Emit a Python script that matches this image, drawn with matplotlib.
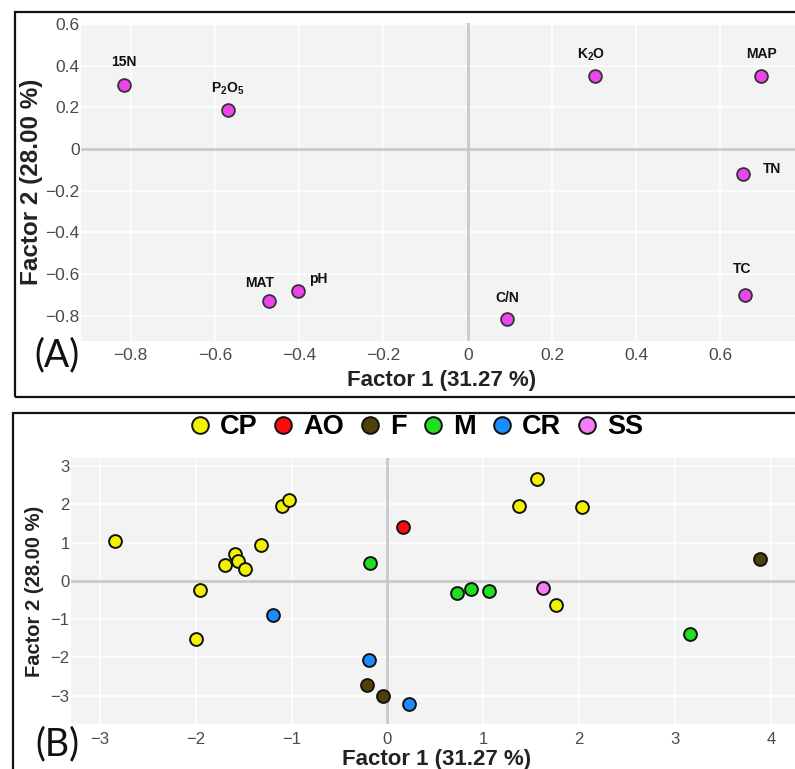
import matplotlib
matplotlib.use("Agg")
import matplotlib.pyplot as plt
from matplotlib.patches import Rectangle
from matplotlib.lines import Line2D
from matplotlib.ticker import FuncFormatter, MultipleLocator

plt.rcParams['font.family'] = ['Liberation Sans', 'DejaVu Sans']
plt.rcParams['mathtext.fontset'] = 'custom'
plt.rcParams['mathtext.rm'] = 'Liberation Sans:bold'
plt.rcParams['mathtext.it'] = 'Liberation Sans:bold'
plt.rcParams['mathtext.bf'] = 'Liberation Sans:bold'

# ---------------- Data: panel A (variable loadings) ----------------
var_names = ['15N', 'P$_2$O$_5$', 'MAT', 'pH', 'K$_2$O', 'MAP', 'TN', 'TC', 'C/N']
var_f1 = [-0.816, -0.570, -0.471, -0.404, 0.302, 0.697, 0.653, 0.659, 0.093]
var_f2 = [0.306, 0.188, -0.731, -0.683, 0.351, 0.351, -0.119, -0.700, -0.817]

# ---------------- Data: panel B (sample scores) ----------------
groups = ['CP', 'AO', 'F', 'M', 'CR', 'SS']
cp_f1 = [-2.84, -1.95, -2.00, -1.69, -1.59, -1.56, -1.485, -1.32, -1.10, -1.03, 1.555, 1.375, 2.03, 1.754]
cp_f2 = [1.045, -0.25, -1.51, 0.41, 0.70, 0.51, 0.31, 0.94, 1.96, 2.10, 2.66, 1.96, 1.93, -0.64]
ao_f1 = [0.16]
ao_f2 = [1.40]
f_f1 = [-0.21, -0.05, 3.88]
f_f2 = [-2.73, -3.00, 0.57]
m_f1 = [-0.18, 0.73, 0.874, 1.055, 3.15]
m_f2 = [0.47, -0.32, -0.22, -0.27, -1.38]
cr_f1 = [-1.196, -0.195, 0.223]
cr_f2 = [-0.90, -2.07, -3.23]
ss_f1 = [1.625]
ss_f2 = [-0.18]

group_f1 = [cp_f1, ao_f1, f_f1, m_f1, cr_f1, ss_f1]
group_f2 = [cp_f2, ao_f2, f_f2, m_f2, cr_f2, ss_f2]

# ---------------- Styles ----------------
group_colors = ['#f2f200', '#ff0a0a', '#4f4208', '#1ee01e', '#1a8cff', '#f57cf5']
var_color = '#ee44ee'
# label offsets in points (dx, dy) for panel A
label_offsets = [(0, 17), (0, 15), (-7, 13), (15, 9), (-3, 15), (0, 15.5), (21, 3.5), (-2, 19), (0, 15)]

W, H = 795, 769
fig = plt.figure(figsize=(W / 100, H / 100), dpi=100)

def fx(px):
    return px / W

def fy(py):
    return 1 - py / H

# outer boxes
fig.patches.append(Rectangle((fx(15), fy(397)), fx(800) - fx(15), fy(12) - fy(397),
                             transform=fig.transFigure, fill=False, lw=1.6, ec='#111111'))
fig.patches.append(Rectangle((fx(13), fy(790)), fx(800) - fx(13), fy(413) - fy(790),
                             transform=fig.transFigure, fill=False, lw=1.6, ec='#111111'))

tick_color = '#4a4a4a'

def fmt(v, pos):
    if abs(v) < 1e-9:
        return '0'
    return ('%.1f' % v).replace('-', '\u2212')

def fmt_int(v, pos):
    return ('%d' % round(v)).replace('-', '\u2212')

def style_ax(ax):
    ax.set_facecolor('#f3f3f3')
    for sp in ax.spines.values():
        sp.set_visible(False)
    ax.grid(True, color='white', lw=1.2)
    ax.set_axisbelow(True)
    ax.axhline(0, color='#c9c9c9', lw=2, zorder=1)
    ax.axvline(0, color='#c9c9c9', lw=2, zorder=1)
    ax.tick_params(length=0, colors=tick_color)

# ---------------- Panel A ----------------
axA = fig.add_axes([fx(81), fy(341), fx(795) - fx(81), fy(23) - fy(341)])
style_ax(axA)
axA.set_xlim(-0.918, 0.777)
axA.set_ylim(-0.921, 0.605)
axA.xaxis.set_major_locator(MultipleLocator(0.2))
axA.yaxis.set_major_locator(MultipleLocator(0.2))
axA.xaxis.set_major_formatter(FuncFormatter(fmt))
axA.yaxis.set_major_formatter(FuncFormatter(fmt))
axA.tick_params(axis='x', labelsize=12.5, pad=5)
axA.tick_params(axis='y', labelsize=12.5, pad=1)
axA.scatter(var_f1, var_f2, s=85, c=var_color, edgecolors='#333333', linewidths=1.3, zorder=3)
for name, x, y, off in zip(var_names, var_f1, var_f2, label_offsets):
    axA.annotate(name, (x, y), xytext=off, textcoords='offset points',
                 ha='center', va='center', fontsize=10, fontweight='bold', color='#111111')

fig.text(fx(442), fy(380), 'Factor 1 (31.27 %)', ha='center', va='center',
         fontsize=16, fontweight='bold', color='#222222')
fig.text(fx(32), fy(182), 'Factor 2 (28.00 %)', ha='center', va='center', rotation=90,
         fontsize=17.5, fontweight='bold', color='#222222')
fig.text(fx(57), fy(355), '(A)', ha='center', va='center', fontsize=27,
         family=['Lato', 'DejaVu Sans'], color='#111111')

# ---------------- Panel B ----------------
axB = fig.add_axes([fx(71), fy(724), fx(795) - fx(71), fy(458) - fy(724)])
style_ax(axB)
axB.set_xlim(-3.30, 4.25)
axB.set_ylim(-3.74, 3.21)
axB.xaxis.set_major_locator(MultipleLocator(1))
axB.yaxis.set_major_locator(MultipleLocator(1))
axB.xaxis.set_major_formatter(FuncFormatter(fmt_int))
axB.yaxis.set_major_formatter(FuncFormatter(fmt_int))
axB.tick_params(axis='x', labelsize=12, pad=6)
axB.tick_params(axis='y', labelsize=12, pad=1)
for g, xs, ys, col in zip(groups, group_f1, group_f2, group_colors):
    axB.scatter(xs, ys, s=85, c=col, edgecolors='#111111', linewidths=1.4, zorder=3, label=g)

handles = [Line2D([], [], ls='none', marker='o', markersize=12, markerfacecolor=c,
                  markeredgecolor='#111111', markeredgewidth=1.4) for c in group_colors]
fig.legend(handles, groups, loc='center', bbox_to_anchor=(fx(416), fy(427)), ncol=6,
           frameon=False, prop={'weight': 'bold', 'size': 19.5}, handlelength=0.8,
           handletextpad=0.35, columnspacing=0.55, borderpad=0, borderaxespad=0)

fig.text(fx(437), fy(759), 'Factor 1 (31.27 %)', ha='center', va='center',
         fontsize=16, fontweight='bold', color='#222222')
fig.text(fx(35), fy(591), 'Factor 2 (28.00 %)', ha='center', va='center', rotation=90,
         fontsize=14.5, fontweight='bold', color='#222222')
fig.text(fx(57), fy(744), '(B)', ha='center', va='center', fontsize=27,
         family=['Lato', 'DejaVu Sans'], color='#111111')

fig.savefig('out.png', dpi=100)
